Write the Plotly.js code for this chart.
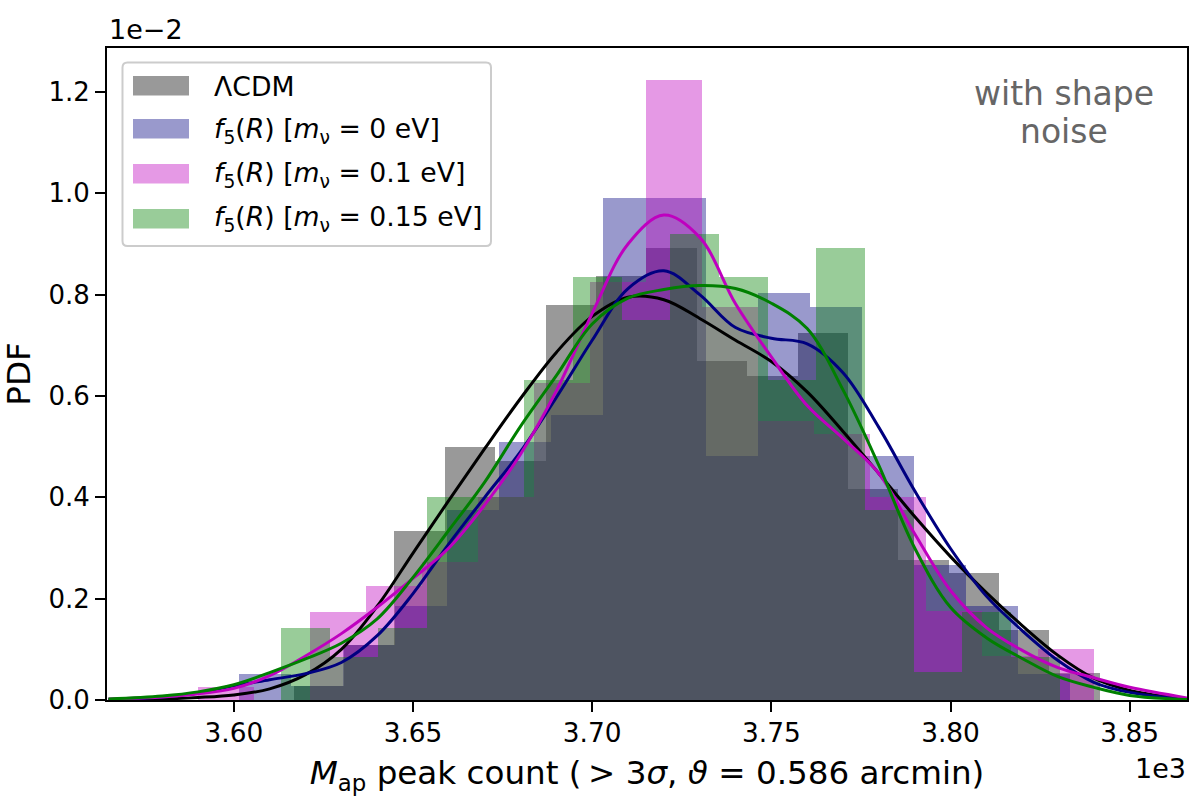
<!DOCTYPE html>
<html>
<head>
<meta charset="utf-8">
<script src="https://cdn.plot.ly/plotly-3.0.1.min.js"></script>
<style>html, body { margin: 0; background: #fff; }</style>
</head>
<body>
<div id="chart" style="width:1200px;height:800px"></div>
<script>
// histogram bin edges (peak count) and heights (PDF x 1e-2)
const lcdmEdges = [3616.7, 3630.8, 3644.8, 3658.9, 3672.9, 3687.0, 3701.1, 3715.1, 3729.2, 3743.2, 3757.3, 3771.4, 3785.4, 3799.5, 3813.5, 3827.6, 3841.6];
const lcdmHist = [0.027, 0.108, 0.334, 0.500, 0.472, 0.780, 0.836, 0.893, 0.669, 0.640, 0.725, 0.417, 0.277, 0.250, 0.139, 0.054];
const nu0Edges = [3601.4, 3615.9, 3630.4, 3644.9, 3659.4, 3673.9, 3688.4, 3702.9, 3717.4, 3731.9, 3746.4, 3760.9, 3775.4, 3789.9, 3804.4, 3818.9, 3833.4];
const nu0Hist = [0.052, 0.027, 0.108, 0.186, 0.374, 0.509, 0.563, 0.990, 0.990, 0.482, 0.804, 0.776, 0.482, 0.267, 0.186, 0.052];
const nu01Edges = [3590.0, 3605.6, 3621.3, 3636.9, 3652.5, 3668.1, 3683.8, 3699.4, 3715.0, 3730.6, 3746.3, 3761.9, 3777.5, 3793.1, 3808.8, 3824.4, 3840.0];
const nu01Hist = [0.026, 0, 0.174, 0.224, 0.273, 0.400, 0.625, 0.824, 1.2245, 0.775, 0.550, 0.524, 0.400, 0.175, 0.086, 0.100];
const nu015Edges = [3613.1, 3626.7, 3640.3, 3653.9, 3667.5, 3681.1, 3694.6, 3708.2, 3721.8, 3735.4, 3749.0, 3762.6, 3776.2, 3789.8, 3803.3, 3816.9, 3830.5];
const nu015Hist = [0.143, 0.085, 0.143, 0.400, 0.400, 0.632, 0.834, 0.749, 0.920, 0.834, 0.632, 0.893, 0.374, 0.056, 0.173, 0.085];

// KDE curves
const kdeX = [3565, 3580, 3590, 3600, 3610, 3620, 3630, 3640, 3650, 3660, 3670, 3680, 3690, 3700, 3710, 3720, 3730, 3740, 3750, 3760, 3770, 3780, 3790, 3800, 3810, 3820, 3830, 3840, 3850, 3866];
const lcdmKde = [0.001, 0.002, 0.005, 0.010, 0.022, 0.050, 0.100, 0.185, 0.290, 0.394, 0.496, 0.595, 0.686, 0.757, 0.795, 0.790, 0.753, 0.710, 0.668, 0.608, 0.530, 0.447, 0.362, 0.283, 0.212, 0.147, 0.088, 0.043, 0.019, 0.002];
const nu0Kde = [0.001, 0.006, 0.014, 0.028, 0.040, 0.052, 0.074, 0.127, 0.210, 0.308, 0.400, 0.490, 0.597, 0.710, 0.812, 0.847, 0.800, 0.735, 0.714, 0.703, 0.646, 0.538, 0.413, 0.299, 0.205, 0.137, 0.078, 0.035, 0.015, 0.001];
const nu01Kde = [0.002, 0.006, 0.012, 0.023, 0.048, 0.087, 0.131, 0.183, 0.240, 0.300, 0.385, 0.485, 0.610, 0.763, 0.900, 0.957, 0.913, 0.782, 0.677, 0.581, 0.516, 0.447, 0.328, 0.216, 0.143, 0.098, 0.064, 0.044, 0.025, 0.004];
const nu015Kde = [0.002, 0.008, 0.016, 0.030, 0.054, 0.081, 0.112, 0.160, 0.242, 0.335, 0.430, 0.540, 0.640, 0.742, 0.793, 0.810, 0.818, 0.812, 0.783, 0.733, 0.612, 0.463, 0.300, 0.183, 0.123, 0.082, 0.046, 0.025, 0.009, 0.001];

const xTicks = [3600, 3650, 3700, 3750, 3800, 3850];
const xTickText = ['3.60', '3.65', '3.70', '3.75', '3.80', '3.85'];
const yTicks = [0, 0.2, 0.4, 0.6, 0.8, 1.0, 1.2];
const names = ['ΛCDM',
  '<i>f</i><sub>5</sub>(<i>R</i>) [<i>m</i><sub>ν</sub> = 0 eV]',
  '<i>f</i><sub>5</sub>(<i>R</i>) [<i>m</i><sub>ν</sub> = 0.1 eV]',
  '<i>f</i><sub>5</sub>(<i>R</i>) [<i>m</i><sub>ν</sub> = 0.15 eV]'];
const lineColors = ['#000000', '#000080', '#bf00bf', '#008000'];
const barColors = ['rgba(0,0,0,0.4)', 'rgba(0,0,128,0.4)', 'rgba(191,0,191,0.4)', 'rgba(0,128,0,0.4)'];
const FONT = '"DejaVu Sans", sans-serif';

function histTrace(edges, vals, i) {
  const x = [], width = [];
  vals.forEach((v, k) => {
    x.push((edges[k] + edges[k + 1]) / 2);
    width.push(edges[k + 1] - edges[k]);
  });
  return { type: 'bar', x, y: vals, width, marker: { color: barColors[i], line: { width: 0 } }, showlegend: false, hoverinfo: 'skip' };
}

function kdeTrace(vals, i) {
  return { type: 'scatter', mode: 'lines', x: kdeX, y: vals, line: { color: lineColors[i], width: 3, shape: 'spline', smoothing: 1 }, showlegend: false };
}

const traces = [
  histTrace(lcdmEdges, lcdmHist, 0), histTrace(nu0Edges, nu0Hist, 1),
  histTrace(nu01Edges, nu01Hist, 2), histTrace(nu015Edges, nu015Hist, 3),
  kdeTrace(lcdmKde, 0), kdeTrace(nu0Kde, 1), kdeTrace(nu01Kde, 2), kdeTrace(nu015Kde, 3),
];

// the legend is hand built: plotly's bar swatches are too small
const fx = (x) => (x - 107) / 1080;
const fy = (y) => (700 - y) / 652;
function note(x, y, text, size, color, xanchor) {
  return { xref: 'paper', yref: 'paper', x: fx(x), y: fy(y), text, showarrow: false, xanchor, yanchor: 'middle', font: { family: FONT, size, color } };
}
function roundRect(x0, y0, x1, y1, r) {
  const p = (x, y) => `${fx(x).toFixed(5)},${fy(y).toFixed(5)}`;
  return `M${p(x0 + r, y0)} L${p(x1 - r, y0)} Q${p(x1, y0)} ${p(x1, y0 + r)} L${p(x1, y1 - r)} Q${p(x1, y1)} ${p(x1 - r, y1)} L${p(x0 + r, y1)} Q${p(x0, y1)} ${p(x0, y1 - r)} L${p(x0, y0 + r)} Q${p(x0, y0)} ${p(x0 + r, y0)} Z`;
}
const swatchTops = [76, 119, 164, 209];
const rowCenters = [86, 130, 174, 218];
const shapes = [{ type: 'path', xref: 'paper', yref: 'paper', path: roundRect(122.5, 62.5, 491, 246, 5), fillcolor: 'rgba(255,255,255,0.8)', line: { color: '#cccccc', width: 2 } }];
swatchTops.forEach((top, i) => {
  shapes.push({ type: 'rect', xref: 'paper', yref: 'paper', x0: fx(133), x1: fx(189), y0: fy(top), y1: fy(top + 19.5), fillcolor: barColors[i], line: { width: 0 } });
});

const annotations = names.map((n, i) => note(212, rowCenters[i], n, 26.7, '#000', 'left'));
annotations.push(
  note(107, 30, '1e−2', 27, '#000', 'left'),
  note(1188, 768, '1e3', 27, '#000', 'right'),
  note(1064, 93, 'with shape', 33, '#666666', 'center'),
  note(1064, 131, 'noise', 33, '#666666', 'center')
);

const layout = {
  width: 1200, height: 800, autosize: false,
  margin: { l: 107, r: 13, t: 48, b: 100, pad: 0 },
  paper_bgcolor: '#fff', plot_bgcolor: '#fff',
  barmode: 'overlay', bargap: 0, showlegend: false,
  font: { family: FONT, color: '#000', size: 26 },
  xaxis: {
    range: [3564.6, 3866], tickvals: xTicks, ticktext: xTickText,
    showgrid: false, zeroline: false, showline: true, mirror: true, linecolor: '#000', linewidth: 2,
    ticks: 'outside', ticklen: 10, tickwidth: 2, tickcolor: '#000', tickfont: { size: 26.4 }, ticklabelstandoff: -2,
    title: { text: '<i>M</i><sub>ap</sub> peak count (&#8201;> 3<i>σ</i>, <i>ϑ</i> = 0.586 arcmin)', font: { size: 32.6 }, standoff: 15 },
  },
  yaxis: {
    range: [0, 1.2867], tickvals: yTicks, tickformat: '.1f',
    showgrid: false, zeroline: false, showline: true, mirror: true, linecolor: '#000', linewidth: 2,
    ticks: 'outside', ticklen: 10, tickwidth: 2, tickcolor: '#000', tickfont: { size: 26 },
    title: { text: 'PDF', font: { size: 32.6 }, standoff: 12 },
  },
  shapes, annotations,
};

Plotly.newPlot('chart', traces, layout, { displayModeBar: false, staticPlot: true });
</script>
</body>
</html>
